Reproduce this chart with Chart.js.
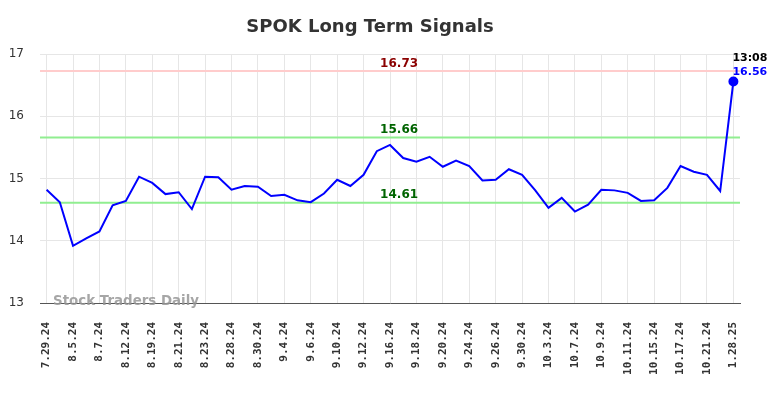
<!DOCTYPE html>
<html>
<head>
<meta charset="utf-8">
<script src="https://cdn.jsdelivr.net/npm/chart.js@4/dist/chart.umd.min.js"></script>
<style>
html,body{margin:0;padding:0;background:#fff;}
canvas{display:block;}
</style>
</head>
<body>
<canvas id="c" width="784" height="398"></canvas>
<script>
const dates = ["7.29.24","8.1.24","8.5.24","8.6.24","8.7.24","8.9.24","8.12.24","8.15.24","8.19.24","8.20.24",
"8.21.24","8.22.24","8.23.24","8.27.24","8.28.24","8.29.24","8.30.24","9.3.24","9.4.24","9.5.24",
"9.6.24","9.9.24","9.10.24","9.11.24","9.12.24","9.13.24","9.16.24","9.17.24","9.18.24","9.19.24",
"9.20.24","9.23.24","9.24.24","9.25.24","9.26.24","9.27.24","9.30.24","10.1.24","10.3.24","10.4.24",
"10.7.24","10.8.24","10.9.24","10.10.24","10.11.24","10.14.24","10.15.24","10.16.24","10.17.24","10.18.24",
"10.21.24","10.22.24","1.28.25"];
const prices = [14.82,14.62,13.92,14.04,14.15,14.57,14.64,15.03,14.93,14.75,
14.78,14.51,15.03,15.02,14.82,14.88,14.87,14.72,14.74,14.65,
14.62,14.76,14.98,14.88,15.06,15.44,15.54,15.33,15.27,15.35,
15.19,15.29,15.20,14.97,14.98,15.15,15.06,14.81,14.53,14.69,
14.47,14.58,14.82,14.81,14.77,14.64,14.65,14.85,15.20,15.11,
15.06,14.80,16.56];
const signalLevels = [16.73, 15.66, 14.61];
const signalLabels = ["16.73", "15.66", "14.61"];
const signalColors = ["#ffcccc", "#90ee90", "#90ee90"];
const signalTextColors = ["#8b0000", "#006400", "#006400"];
const yTicks = [13, 14, 15, 16, 17];
const lastTime = "13:08";
const lastLabel = "16.56";
const watermark = "Stock Traders Daily";

const overlay = {
  id: 'overlay',
  beforeDatasetsDraw(chart) {
    const {ctx, chartArea, scales} = chart;
    ctx.save();
    signalLevels.forEach((v, i) => {
      const y = scales.y.getPixelForValue(v);
      ctx.strokeStyle = signalColors[i];
      ctx.lineWidth = 2;
      ctx.beginPath();
      ctx.moveTo(chartArea.left, y);
      ctx.lineTo(chartArea.right, y);
      ctx.stroke();
    });
    ctx.restore();
  },
  afterDraw(chart) {
    const {ctx, chartArea, scales} = chart;
    ctx.save();
    const cx = chartArea.left + 0.513 * (chartArea.right - chartArea.left);
    ctx.font = 'bold 12px "DejaVu Sans"';
    ctx.textAlign = 'center';
    ctx.textBaseline = 'middle';
    signalLevels.forEach((v, i) => {
      const y = scales.y.getPixelForValue(v);
      ctx.fillStyle = signalTextColors[i];
      ctx.fillText(signalLabels[i], cx, y - 7.5);
    });
    const n = prices.length - 1;
    const px = scales.x.getPixelForValue(n);
    const py = scales.y.getPixelForValue(prices[n]);
    ctx.textAlign = 'left';
    ctx.font = 'bold 11px "DejaVu Sans"';
    ctx.fillStyle = '#000';
    ctx.fillText(lastTime, px - 1, py - 23);
    ctx.fillStyle = '#0000ff';
    ctx.fillText(lastLabel, px - 1, py - 9);
    ctx.font = 'bold 13.4px "DejaVu Sans"';
    ctx.fillStyle = 'rgba(150,150,150,0.85)';
    ctx.textBaseline = 'middle';
    ctx.fillText(watermark, chartArea.left + 13, chartArea.bottom - 1);
    ctx.restore();
  }
};

new Chart(document.getElementById('c'), {
  type: 'line',
  data: {
    labels: dates,
    datasets: [{
      data: prices,
      borderColor: '#0000ff',
      borderWidth: 2,
      tension: 0,
      fill: false,
      pointRadius: prices.map((v, i) => i === prices.length - 1 ? 4 : 0),
      pointBackgroundColor: '#0000ff',
      pointBorderColor: '#0000ff',
      pointHoverRadius: 0
    }]
  },
  options: {
    responsive: false,
    animation: false,
    devicePixelRatio: 1,
    layout: { padding: { left: 0, right: 44, top: 0, bottom: 0 } },
    plugins: {
      legend: { display: false },
      tooltip: { enabled: false },
      title: {
        display: true,
        text: 'SPOK Long Term Signals',
        color: '#333333',
        font: { family: 'DejaVu Sans', size: 18, weight: 'bold' },
        padding: { top: 17, bottom: 15.5 }
      }
    },
    scales: {
      x: {
        offset: true,
        grid: {
          offset: false,
          drawTicks: false,
          color: (c) => (c.index % 2 === 0 ? '#e6e6e6' : 'rgba(0,0,0,0)'),
          lineWidth: 1
        },
        border: { display: true, color: '#555555', width: 1 },
        ticks: {
          autoSkip: false,
          maxRotation: 90,
          minRotation: 90,
          padding: 19,
          color: '#333333',
          font: { family: 'DejaVu Sans Mono', size: 11, weight: 'bold' },
          callback: function(v, i) { return i % 2 === 0 ? dates[i] : ''; }
        },
        afterFit: (s) => { s.height = 95; }
      },
      y: {
        min: 13,
        max: 17,
        afterBuildTicks: (s) => { s.ticks = yTicks.map(v => ({ value: v })); },
        grid: { color: '#e6e6e6', drawTicks: false, lineWidth: 1 },
        border: { display: false },
        ticks: {
          padding: 16,
          color: '#333333',
          font: { family: 'DejaVu Sans', size: 12 }
        },
        afterFit: (s) => { s.width = 40; }
      }
    }
  },
  plugins: [overlay]
});
</script>
</body>
</html>
